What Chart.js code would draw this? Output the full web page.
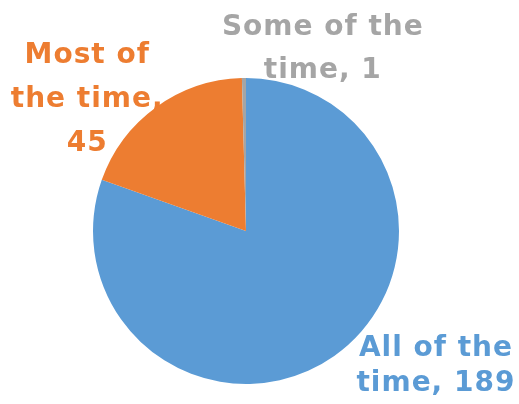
<!DOCTYPE html>
<html>
<head>
<meta charset="utf-8">
<script src="https://cdn.jsdelivr.net/npm/chart.js@4/dist/chart.umd.min.js"></script>
<style>
  html, body { margin: 0; padding: 0; background: #fff; }
  #wrap { width: 519px; height: 404px; position: relative; }
</style>
</head>
<body>
<div id="wrap"><canvas id="c"></canvas></div>
<script>
const categories = ["All of the time", "Most of the time", "Some of the time"];
const values = [189, 45, 1];
const colors = ["#5B9BD5", "#ED7D31", "#A5A5A5"];
// label text lines, as shown in the reference
const labelLines = [
  ["All of the", "time, 189"],
  ["Most of", "the time,", "45"],
  ["Some of the", "time, 1"]
];
// label anchor (center x, first baseline y) as fractions of the canvas
const labelAnchors = [
  [0.840, 0.882],
  [0.168, 0.156],
  [0.622, 0.087]
];
const labelLineGaps = [35, 44, 43];

const labelPlugin = {
  id: 'outsideLabels',
  beforeDatasetsDraw(chart) {
    const ctx = chart.ctx;
    ctx.save();
    ctx.font = 'bold 28px "DejaVu Sans"';
    ctx.letterSpacing = '1px';
    ctx.textAlign = 'center';
    ctx.textBaseline = 'alphabetic';
    labelLines.forEach((lines, i) => {
      ctx.fillStyle = colors[i];
      const x = labelAnchors[i][0] * chart.width;
      let y = labelAnchors[i][1] * chart.height;
      lines.forEach(t => { ctx.fillText(t, x, y); y += labelLineGaps[i]; });
    });
    ctx.restore();
  }
};

new Chart(document.getElementById('c'), {
  type: 'pie',
  data: {
    labels: categories,
    datasets: [{ data: values, backgroundColor: colors, borderWidth: 0 }]
  },
  options: {
    responsive: true,
    maintainAspectRatio: false,
    animation: false,
    layout: { padding: { top: 78, bottom: 20, left: 0, right: 27 } },
    plugins: { legend: { display: false }, tooltip: { enabled: false } }
  },
  plugins: [labelPlugin]
});
</script>
</body>
</html>
